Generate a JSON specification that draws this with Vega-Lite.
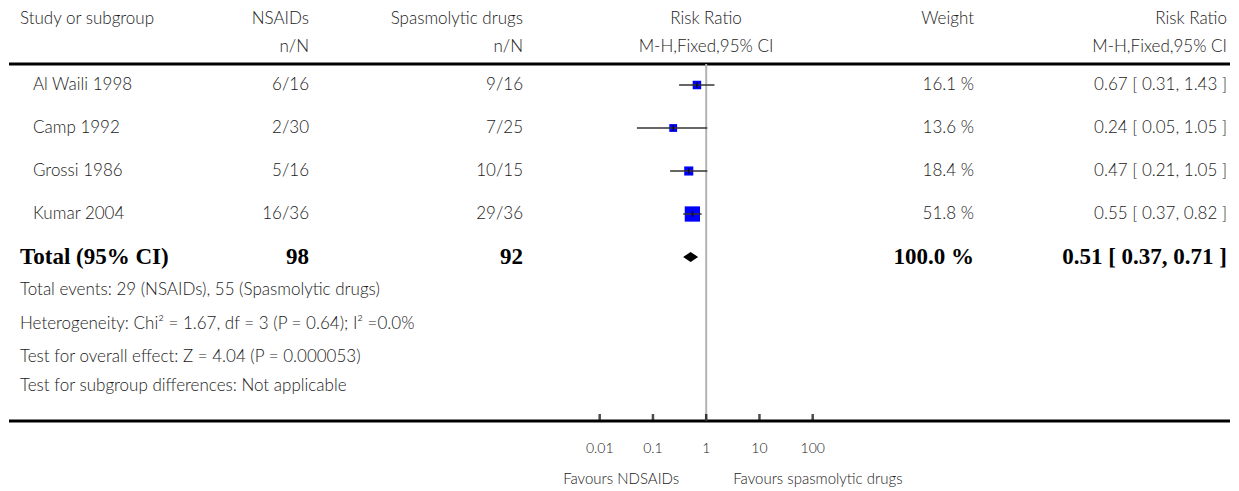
{
  "$schema": "https://vega.github.io/schema/vega-lite/v6.json",
  "width": 1239,
  "height": 491,
  "autosize": {"type": "fit", "contains": "padding"},
  "padding": {"left": 7, "right": 7, "top": 0, "bottom": 0},
  "background": "white",
  "config": {
    "view": {"stroke": null},
    "text": {"font": "Lato", "fontSize": 17, "fontWeight": 300, "color": "#1a1a1a", "baseline": "middle"}
  },
  "datasets": {
    "headers": [
      {"text": "Study or subgroup", "row": 0, "col": 0},
      {"text": "NSAIDs", "row": 0, "col": 2},
      {"text": "Spasmolytic drugs", "row": 0, "col": 3},
      {"text": "Risk Ratio", "row": 0, "col": 4},
      {"text": "Weight", "row": 0, "col": 5},
      {"text": "Risk Ratio", "row": 0, "col": 6},
      {"text": "n/N", "row": 1, "col": 2},
      {"text": "n/N", "row": 1, "col": 3},
      {"text": "M-H,Fixed,95% CI", "row": 1, "col": 4},
      {"text": "M-H,Fixed,95% CI", "row": 1, "col": 6}
    ],
    "studies": [
      {"study": "Al Waili 1998", "nsaid": "6/16", "spas": "9/16", "rr": 0.67, "lo": 0.31, "hi": 1.43, "weight": 16.1, "wlabel": "16.1 %", "ci": "0.67 [ 0.31, 1.43 ]", "row": 3},
      {"study": "Camp 1992", "nsaid": "2/30", "spas": "7/25", "rr": 0.24, "lo": 0.05, "hi": 1.05, "weight": 13.6, "wlabel": "13.6 %", "ci": "0.24 [ 0.05, 1.05 ]", "row": 4},
      {"study": "Grossi 1986", "nsaid": "5/16", "spas": "10/15", "rr": 0.47, "lo": 0.21, "hi": 1.05, "weight": 18.4, "wlabel": "18.4 %", "ci": "0.47 [ 0.21, 1.05 ]", "row": 5},
      {"study": "Kumar 2004", "nsaid": "16/36", "spas": "29/36", "rr": 0.55, "lo": 0.37, "hi": 0.82, "weight": 51.8, "wlabel": "51.8 %", "ci": "0.55 [ 0.37, 0.82 ]", "row": 6}
    ],
    "total": [
      {"study": "Total (95% CI)", "nsaid": "98", "spas": "92", "rr": 0.51, "lo": 0.37, "hi": 0.71, "weight": 100, "wlabel": "100.0 %", "ci": "0.51 [ 0.37, 0.71 ]", "row": 7}
    ],
    "footers": [
      {"text": "Total events: 29 (NSAIDs), 55 (Spasmolytic drugs)", "row": 8},
      {"text": "Heterogeneity: Chi² = 1.67, df = 3 (P = 0.64); I² =0.0%", "row": 9},
      {"text": "Test for overall effect: Z = 4.04 (P = 0.000053)", "row": 10},
      {"text": "Test for subgroup differences: Not applicable", "row": 11}
    ],
    "hlines": [{"row": 2}, {"row": 12}],
    "axisticks": [
      {"value": 0.01, "label": "0.01", "row": 12, "labelrow": 13},
      {"value": 0.1, "label": "0.1", "row": 12, "labelrow": 13},
      {"value": 1, "label": "1", "row": 12, "labelrow": 13},
      {"value": 10, "label": "10", "row": 12, "labelrow": 13},
      {"value": 100, "label": "100", "row": 12, "labelrow": 13}
    ],
    "favours": [{"left": "Favours NDSAIDs", "right": "Favours spasmolytic drugs", "at": 1, "row": 14}]
  },
  "resolve": {"scale": {"x": "independent"}},
  "layer": [
    {
      "encoding": {
        "y": {"field": "row", "type": "quantitative", "axis": null,
              "scale": {"type": "linear", "nice": false, "zero": false,
                        "domain": [0, 1, 2, 3, 4, 5, 6, 7, 8, 9, 10, 11, 12, 13, 14],
                        "range": [19, 47, 64, 85, 128, 171, 214, 257, 290, 324, 357, 386, 421, 449, 479]}}
      },
      "layer": [
        {
          "data": {"name": "headers"},
          "transform": [{"filter": "datum.col == 0"}],
          "mark": {"type": "text", "align": "left"},
          "encoding": {
            "x": {"field": "col", "type": "quantitative", "axis": null,
                  "scale": {"type": "linear", "nice": false, "zero": false, "domain": [0, 1, 2, 3, 4, 5, 6], "range": [11, 24, 300, 514, 697, 965, 1218]}},
            "text": {"field": "text"}
          }
        },
        {
          "data": {"name": "headers"},
          "transform": [{"filter": "datum.col == 4"}],
          "mark": {"type": "text", "align": "center"},
          "encoding": {
            "x": {"field": "col", "type": "quantitative", "axis": null},
            "text": {"field": "text"}
          }
        },
        {
          "data": {"name": "headers"},
          "transform": [{"filter": "datum.col != 0 && datum.col != 4"}],
          "mark": {"type": "text", "align": "right"},
          "encoding": {
            "x": {"field": "col", "type": "quantitative", "axis": null},
            "text": {"field": "text"}
          }
        },
        {
          "data": {"name": "studies"},
          "mark": {"type": "text", "align": "left"},
          "encoding": {"x": {"datum": 1, "type": "quantitative", "axis": null}, "text": {"field": "study"}}
        },
        {
          "data": {"name": "studies"},
          "mark": {"type": "text", "align": "right"},
          "encoding": {"x": {"datum": 2, "type": "quantitative", "axis": null}, "text": {"field": "nsaid"}}
        },
        {
          "data": {"name": "studies"},
          "mark": {"type": "text", "align": "right"},
          "encoding": {"x": {"datum": 3, "type": "quantitative", "axis": null}, "text": {"field": "spas"}}
        },
        {
          "data": {"name": "studies"},
          "mark": {"type": "text", "align": "right"},
          "encoding": {"x": {"datum": 5, "type": "quantitative", "axis": null}, "text": {"field": "wlabel"}}
        },
        {
          "data": {"name": "studies"},
          "mark": {"type": "text", "align": "right"},
          "encoding": {"x": {"datum": 6, "type": "quantitative", "axis": null}, "text": {"field": "ci"}}
        },
        {
          "data": {"name": "total"},
          "mark": {"type": "text", "align": "left", "font": "Liberation Serif", "fontWeight": "bold", "fontSize": 23, "color": "#000"},
          "encoding": {"x": {"datum": 0, "type": "quantitative", "axis": null}, "text": {"field": "study"}}
        },
        {
          "data": {"name": "total"},
          "mark": {"type": "text", "align": "right", "font": "Liberation Serif", "fontWeight": "bold", "fontSize": 23, "color": "#000"},
          "encoding": {"x": {"datum": 2, "type": "quantitative", "axis": null}, "text": {"field": "nsaid"}}
        },
        {
          "data": {"name": "total"},
          "mark": {"type": "text", "align": "right", "font": "Liberation Serif", "fontWeight": "bold", "fontSize": 23, "color": "#000"},
          "encoding": {"x": {"datum": 3, "type": "quantitative", "axis": null}, "text": {"field": "spas"}}
        },
        {
          "data": {"name": "total"},
          "mark": {"type": "text", "align": "right", "font": "Liberation Serif", "fontWeight": "bold", "fontSize": 23, "color": "#000"},
          "encoding": {"x": {"datum": 5, "type": "quantitative", "axis": null}, "text": {"field": "wlabel"}}
        },
        {
          "data": {"name": "total"},
          "mark": {"type": "text", "align": "right", "font": "Liberation Serif", "fontWeight": "bold", "fontSize": 23, "color": "#000"},
          "encoding": {"x": {"datum": 6, "type": "quantitative", "axis": null}, "text": {"field": "ci"}}
        },
        {
          "data": {"name": "footers"},
          "mark": {"type": "text", "align": "left"},
          "encoding": {"x": {"datum": 0, "type": "quantitative", "axis": null}, "text": {"field": "text"}}
        },
        {
          "data": {"name": "hlines"},
          "mark": {"type": "rule", "color": "#000", "strokeWidth": 3},
          "encoding": {"y": {"field": "row", "type": "quantitative", "axis": null}}
        }
      ]
    },
    {
      "layer": [
        {
          "data": {"values": [{"row": 2, "row2": 12}]},
          "mark": {"type": "rule", "color": "#b3b3b3", "strokeWidth": 2},
          "encoding": {
            "x": {"datum": 1, "type": "quantitative", "axis": null,
                  "scale": {"type": "log", "nice": false, "domain": [0.01, 100], "range": [590.7, 803.7]}},
            "y": {"field": "row", "type": "quantitative", "axis": null},
            "y2": {"field": "row2"}
          }
        },
        {
          "data": {"name": "studies"},
          "mark": {"type": "point", "shape": "square", "filled": true, "color": "#0000ff", "opacity": 1},
          "encoding": {
            "x": {"field": "rr", "type": "quantitative", "axis": null},
            "y": {"field": "row", "type": "quantitative", "axis": null},
            "size": {"field": "weight", "type": "quantitative", "legend": null,
                     "scale": {"type": "linear", "zero": true, "domain": [0, 100], "range": [0, 450]}}
          }
        },
        {
          "data": {"name": "studies"},
          "mark": {"type": "rule", "color": "#333", "strokeWidth": 1.5},
          "encoding": {
            "x": {"field": "lo", "type": "quantitative", "axis": null},
            "x2": {"field": "hi"},
            "y": {"field": "row", "type": "quantitative", "axis": null}
          }
        },
        {
          "data": {"name": "studies"},
          "mark": {"type": "tick", "orient": "vertical", "size": 6, "thickness": 1.5, "color": "#000"},
          "encoding": {
            "x": {"field": "rr", "type": "quantitative", "axis": null},
            "y": {"field": "row", "type": "quantitative", "axis": null}
          }
        },
        {
          "data": {"name": "total"},
          "mark": {"type": "point", "shape": "M-1,0L0,-0.68L1,0L0,0.68Z", "filled": true, "color": "#000", "opacity": 1, "size": 225},
          "encoding": {
            "x": {"field": "rr", "type": "quantitative", "axis": null},
            "y": {"field": "row", "type": "quantitative", "axis": null}
          }
        },
        {
          "data": {"name": "axisticks"},
          "mark": {"type": "tick", "orient": "vertical", "size": 7, "thickness": 2.5, "color": "#000", "yOffset": -3.5},
          "encoding": {
            "x": {"field": "value", "type": "quantitative", "axis": null},
            "y": {"field": "row", "type": "quantitative", "axis": null}
          }
        },
        {
          "data": {"name": "axisticks"},
          "mark": {"type": "text", "align": "center", "fontSize": 14},
          "encoding": {
            "x": {"field": "value", "type": "quantitative", "axis": null},
            "y": {"field": "labelrow", "type": "quantitative", "axis": null},
            "text": {"field": "label"}
          }
        },
        {
          "data": {"name": "favours"},
          "mark": {"type": "text", "align": "right", "dx": -27, "fontSize": 15},
          "encoding": {
            "x": {"field": "at", "type": "quantitative", "axis": null},
            "y": {"field": "row", "type": "quantitative", "axis": null},
            "text": {"field": "left"}
          }
        },
        {
          "data": {"name": "favours"},
          "mark": {"type": "text", "align": "left", "dx": 27, "fontSize": 15},
          "encoding": {
            "x": {"field": "at", "type": "quantitative", "axis": null},
            "y": {"field": "row", "type": "quantitative", "axis": null},
            "text": {"field": "right"}
          }
        }
      ]
    }
  ]
}
